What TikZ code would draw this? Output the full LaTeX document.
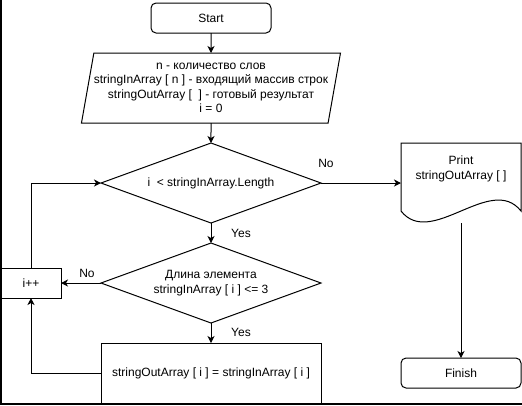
\documentclass[tikz,border=0pt]{standalone}
\usepackage{fontspec}
\setmainfont{Liberation Sans}
\usetikzlibrary{positioning, arrows.meta, shapes.geometric}

\begin{document}
\begin{tikzpicture}[
    x=1pt, y=1pt,
    node distance=20pt,
    font=\fontsize{12}{14.4}\selectfont,
    line width=1pt,
    every node/.style={outer sep=0pt},
    term/.style={draw, rounded corners=5pt, minimum width=120pt, minimum height=30pt, inner sep=0pt},
    inout/.style={draw, trapezium, trapezium left angle=76, trapezium right angle=104, trapezium stretches body,
      minimum width=259pt, minimum height=70pt, inner sep=0pt, align=center},
    decision/.style={draw, diamond, aspect=2.75, minimum width=220pt, minimum height=80pt, inner sep=0pt, align=center},
    process/.style={draw, minimum width=220pt, minimum height=60pt, inner sep=0pt},
    smallbox/.style={draw, minimum width=60pt, minimum height=30pt, inner sep=0pt},
    docbox/.style={minimum width=120pt, minimum height=80pt, inner sep=0pt},
    arr/.style={-{Stealth[length=7pt, width=7pt, inset=2pt]}},
    lbl/.style={inner sep=0pt},
    frame/.style={line width=2pt},
  ]
    \useasboundingbox (0,0) rectangle (522,-405);

    % Start and input
    \node[term] (start) at (211,-18) {Start};
    \node[inout, below=of start] (input) {n - количество слов\\
      stringInArray [ n ] - входящий массив строк\\
      stringOutArray [\ \ ] - готовый результат\\
      i = 0};

    % Loop condition, element check, copy
    \node[decision, below=of input] (cond) {i\ \ < stringInArray.Length};
    \node[decision, below=of cond] (check) {Длина элемента\\stringInArray [ i ] <= 3};
    \node[process, below=of check] (copy) {stringOutArray [ i ] = stringInArray [ i ]};
    \node[smallbox, left=40pt of check] (inc) {i++};

    % Output document
    \node[docbox, right=80pt of cond] (print) {};
    \draw (print.north west) -- (print.north east) -- ([yshift=12pt]print.south east)
      .. controls ([xshift=-30pt, yshift=50pt]print.south east) and ([xshift=30pt, yshift=-26pt]print.south west)
      .. ([yshift=12pt]print.south west) -- cycle;
    \node[lbl, align=center, below=13pt of print.north] (printtxt) {Print\\stringOutArray [ ]};
    \node[term, below=135pt of print] (finish) {Finish};

    % Arrows
    \draw[arr] (start) -- (input);
    \draw[arr] (input) -- (cond);
    \draw[arr] (cond) -- (check);
    \draw[arr] (check) -- (copy);
    \draw[arr] (cond.east) -- (print.west);
    \draw[arr] (print.south) -- (finish.north);
    \draw[arr] (check.west) -- (inc.east);
    \draw[arr] (inc.north) |- (cond.west);
    \draw[arr] (copy.west) -| (inc.south);

    % Branch labels
    \node[lbl] (condno) at ([xshift=5pt, yshift=20pt]cond.east) {No};
    \node[lbl] (condyes) at ([xshift=30pt, yshift=-10pt]cond.south) {Yes};
    \node[lbl] (checkno) at ([xshift=-14pt, yshift=10pt]check.west) {No};
    \node[lbl] (checkyes) at ([xshift=30pt, yshift=-9pt]check.south) {Yes};

    % Frame edges
    \draw[frame] (1,0) -- (1,-404) -- (522,-404);
  \end{tikzpicture}
\end{document}
